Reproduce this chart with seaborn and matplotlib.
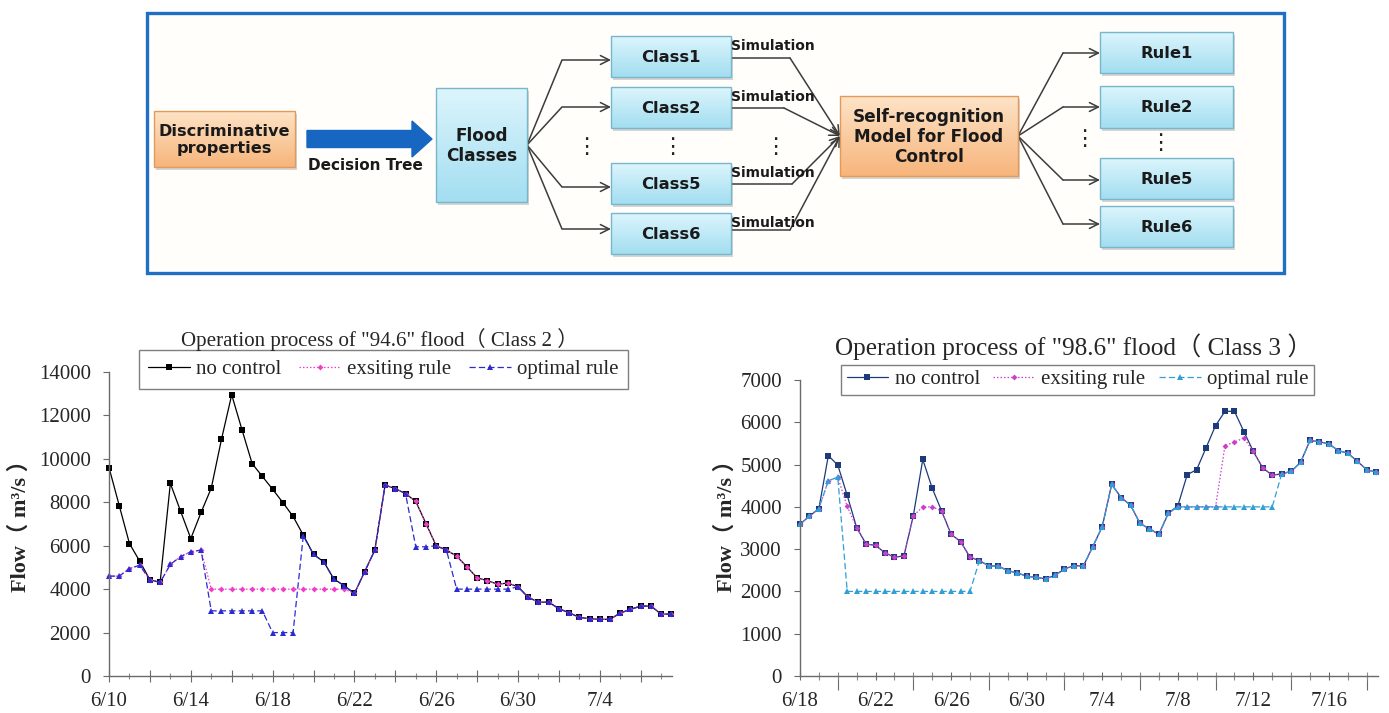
import numpy as np
import pandas as pd
import matplotlib
matplotlib.use('Agg')
import matplotlib.pyplot as plt
import seaborn as sns
from matplotlib.patches import Rectangle, FancyArrow
from matplotlib.colors import LinearSegmentedColormap
from matplotlib.ticker import FixedLocator, FixedFormatter

# ---------------- data ----------------
left_start = '1994-06-10'
left_no_control = [9600, 7850, 6100, 5290, 4430, 4310, 8870, 7590, 6330, 7530,
                   8650, 10900, 12950, 11350, 9780, 9190, 8600, 7990, 7350, 6490,
                   5600, 5260, 4460, 4160, 3800, 4800, 5800, 8790, 8630, 8400,
                   8040, 7020, 6000, 5800, 5520, 5030, 4520, 4390, 4230, 4280,
                   4110, 3620, 3400, 3400, 3100, 2910, 2700, 2640, 2610, 2610,
                   2900, 3070, 3220, 3220, 2850, 2850]
left_existing = [4600, 4600, 4950, 5100, 4430, 4310, 5140, 5500, 5720, 5800,
                 4000, 4000, 4000, 4000, 4000, 4000, 4000, 4000, 4000, 4000,
                 4000, 4000, 4000, 4000, 3800, 4800, 5800, 8790, 8630, 8400,
                 8040, 7020, 6000, 5800, 5520, 5030, 4520, 4390, 4230, 4280,
                 4110, 3620, 3400, 3400, 3100, 2910, 2700, 2640, 2610, 2610,
                 2900, 3070, 3220, 3220, 2850, 2850]
left_optimal = [4600, 4600, 4950, 5100, 4430, 4310, 5140, 5500, 5720, 5800,
                3000, 3000, 3000, 3000, 3000, 3000, 2000, 2000, 2000, 6450,
                5600, 5260, 4460, 4160, 3800, 4800, 5800, 8790, 8630, 8400,
                5950, 5950, 6000, 5800, 4000, 4000, 4000, 4000, 4000, 4000,
                4110, 3620, 3400, 3400, 3100, 2910, 2700, 2640, 2610, 2610,
                2900, 3070, 3220, 3220, 2850, 2850]
left_tick_labels = ['6/10', '6/14', '6/18', '6/22', '6/26', '6/30', '7/4']

right_start = '1998-06-18'
right_no_control = [3590, 3780, 3960, 5210, 4990, 4270, 3510, 3120, 3090, 2910,
                    2810, 2840, 3790, 5120, 4440, 3900, 3350, 3180, 2810, 2730,
                    2600, 2600, 2490, 2440, 2360, 2330, 2300, 2380, 2530, 2610,
                    2600, 3060, 3530, 4530, 4220, 4040, 3610, 3480, 3350, 3850,
                    4020, 4760, 4880, 5400, 5920, 6260, 6260, 5780, 5310, 4920,
                    4750, 4780, 4840, 5050, 5570, 5540, 5490, 5330, 5270, 5080,
                    4880, 4820]
right_existing = [3590, 3780, 3960, 4620, 4700, 4010, 3510, 3120, 3090, 2910,
                  2810, 2840, 3790, 4000, 4000, 3900, 3350, 3180, 2810, 2730,
                  2600, 2600, 2490, 2440, 2360, 2330, 2300, 2380, 2530, 2610,
                  2600, 3060, 3530, 4530, 4220, 4040, 3610, 3480, 3350, 3850,
                  4000, 4000, 4000, 4000, 4000, 5450, 5530, 5630, 5310, 4920,
                  4750, 4780, 4840, 5050, 5570, 5540, 5490, 5330, 5270, 5080,
                  4880, 4820]
right_optimal = [3590, 3780, 3960, 4620, 4700, 2000, 2000, 2000, 2000, 2000,
                 2000, 2000, 2000, 2000, 2000, 2000, 2000, 2000, 2000, 2730,
                 2600, 2600, 2490, 2440, 2360, 2330, 2300, 2380, 2530, 2610,
                 2600, 3060, 3530, 4530, 4220, 4040, 3610, 3480, 3350, 3850,
                 4000, 4000, 4000, 4000, 4000, 4000, 4000, 4000, 4000, 4000,
                 4000, 4780, 4840, 5050, 5570, 5540, 5490, 5330, 5270, 5080,
                 4880, 4820]
right_tick_labels = ['6/18', '6/22', '6/26', '6/30', '7/4', '7/8', '7/12', '7/16']

series_names = ['no control', 'exsiting rule', 'optimal rule']

# ---------------- setup ----------------
sns.set_theme(style='white')
SERIF = ['Liberation Serif', 'Noto Sans CJK SC', 'DejaVu Sans']
plt.rcParams['font.family'] = SERIF

W, H = 1389, 713
fig = plt.figure(figsize=(W / 100, H / 100), dpi=100)
fig.patch.set_facecolor('white')

# ---------------- diagram ----------------
dax = fig.add_axes([0, 0, 1, 1])
dax.set_zorder(0)
dax.axis('off')
SANS = 'DejaVu Sans'
LINEC = '#3c3c3c'

dax.add_patch(Rectangle((147, 13), 1284 - 147, 273 - 13, facecolor='#fffefb',
                        edgecolor='#1f6fc5', lw=2.4, zorder=1))


def gbox(x0, y0, x1, y1, top, bottom, edge, text, fs):
    dax.add_patch(Rectangle((x0 + 2, y0 + 3), x1 - x0, y1 - y0, facecolor='#8a8a8a',
                            alpha=0.35, edgecolor='none', zorder=2))
    cmap = LinearSegmentedColormap.from_list('g', [top, bottom])
    grad = np.linspace(0, 1, 64).reshape(-1, 1)
    im = dax.imshow(grad, extent=(x0, x1, y1, y0), origin='upper', cmap=cmap,
                    aspect='auto', zorder=3, interpolation='bilinear')
    rect = Rectangle((x0, y0), x1 - x0, y1 - y0, facecolor='none', edgecolor=edge,
                     lw=1.0, zorder=4)
    dax.add_patch(rect)
    im.set_clip_path(rect)
    dax.text((x0 + x1) / 2, (y0 + y1) / 2 + 1, text, ha='center', va='center', fontsize=fs,
             fontweight='bold', family=SANS, color='#1a1a1a', zorder=5, linespacing=1.12)


CYAN = ('#dcf5fc', '#a3def1', '#78b6cc')
ORANGE = ('#fde3c6', '#f7b57c', '#e29a5c')

gbox(154, 111, 295, 167, *ORANGE, 'Discriminative\nproperties', 11.6)
gbox(436, 88, 527, 202, *CYAN, 'Flood\nClasses', 12.2)
class_boxes = [(36, 77, 'Class1'), (87, 128, 'Class2'), (163, 204, 'Class5'), (213, 254, 'Class6')]
for y0, y1, t in class_boxes:
    gbox(611, y0, 731, y1, *CYAN, t, 11.8)
gbox(840, 96, 1018, 176, *ORANGE, 'Self-recognition\nModel for Flood\nControl', 12.2)
rule_boxes = [(32, 73, 'Rule1'), (86, 128, 'Rule2'), (158, 199, 'Rule5'), (206, 247, 'Rule6')]
for y0, y1, t in rule_boxes:
    gbox(1100, y0, 1233, y1, *CYAN, t, 11.8)

dax.add_patch(FancyArrow(307, 139, 125, 0, width=17, head_width=36, head_length=20,
                         length_includes_head=True, color='#1767c2', zorder=3))
dax.text(365, 165, 'Decision Tree', ha='center', va='center', fontsize=11,
         fontweight='bold', family=SANS, color='#1a1a1a', zorder=5)

AP = dict(arrowstyle='->', color=LINEC, lw=1.1, shrinkA=0, shrinkB=0, mutation_scale=16)

# fan from flood classes to classes
for yy in [60, 107, 187, 229]:
    dax.plot([527, 562], [145, yy], color=LINEC, lw=1.1, zorder=2, solid_capstyle='butt')
    dax.annotate('', xy=(611, yy), xytext=(562, yy), arrowprops=AP, zorder=2)

# from classes to self-recognition model
for ylab, yy, xb in [(46, 58, 790), (97, 108, 784), (173, 184, 792), (223, 230, 790)]:
    dax.text(731, ylab, 'Simulation', ha='left', va='center', fontsize=10,
             fontweight='bold', family=SANS, color='#1a1a1a', zorder=5)
    dax.plot([731, xb], [yy, yy], color=LINEC, lw=1.1, zorder=2)
    dax.annotate('', xy=(840, 136), xytext=(xb, yy), arrowprops=AP, zorder=2)

# fan from model to rules
for yy in [53, 107, 180, 224]:
    dax.plot([1018, 1063], [136, yy], color=LINEC, lw=1.1, zorder=2)
    dax.annotate('', xy=(1100, yy), xytext=(1063, yy), arrowprops=AP, zorder=2)

for xd, yd in [(586, 147), (672, 147), (775, 147), (1084, 139), (1160, 143)]:
    dax.text(xd, yd, '\u22ee', ha='center', va='center', fontsize=16, family=SANS,
             color='#222222', zorder=5)

dax.set_xlim(0, W)
dax.set_ylim(H, 0)

# ---------------- charts ----------------
axL = fig.add_axes([109 / W, 1 - 676 / H, (672 - 109) / W, (676 - 372) / H])
axR = fig.add_axes([800 / W, 1 - 676 / H, (1378 - 800) / W, (676 - 380) / H])


def day_offsets(start, n):
    dates = pd.date_range(start, periods=n, freq='12h')
    return ((dates - dates[0]) / pd.Timedelta(days=1)).to_numpy()


def draw(ax, x, ys, colors):
    styles = [dict(marker='s', markersize=4.2, linestyle='-'),
              dict(marker='D', markersize=3.0, linestyle=(0, (1.2, 1.6))),
              dict(marker='^', markersize=4.6, linestyle=(0, (5, 2.5)))]
    for y, c, st, name in zip(ys, colors, styles, series_names):
        sns.lineplot(x=x, y=y, ax=ax, color=c, linewidth=0.9, markeredgewidth=0,
                     label=name, clip_on=False, **st)


xL = day_offsets(left_start, len(left_no_control))
xR = day_offsets(right_start, len(right_no_control))

draw(axL, xL, [left_no_control, left_existing, left_optimal], ['#000000', '#ee3fc8', '#2b2bd0'])
draw(axR, xR, [right_no_control, right_existing, right_optimal], ['#1d3a7a', '#cc3fcc', '#2f9fd6'])

axL.set_xlim(0, xL[-1] + 0.03)
axL.set_ylim(0, 14000)
axR.set_xlim(0, xR[-1] + 0.1)
axR.set_ylim(0, 7000)
axL.set_yticks(np.arange(0, 14001, 2000))
axR.set_yticks(np.arange(0, 7001, 1000))

for ax in (axL, axR):
    ax.set_facecolor('none')
    sns.despine(ax=ax)
    for s in ('left', 'bottom'):
        ax.spines[s].set_color('#6a6a6a')
        ax.spines[s].set_linewidth(1.0)
    ax.tick_params(axis='y', direction='out', length=4, width=0.8, color='#6a6a6a',
                   labelsize=15, pad=9, left=True)
    ax.set_xlabel('')
    ax.set_ylabel('')

# left x ticks: long every 2 days, short each day, labels every 4 days
lab_days_L = [4 * i for i in range(len(left_tick_labels))]
maj_L = list(range(0, 28, 2))
axL.xaxis.set_major_locator(FixedLocator(maj_L))
axL.xaxis.set_major_formatter(FixedFormatter(
    [left_tick_labels[lab_days_L.index(d)] if d in lab_days_L else '' for d in maj_L]))
axL.xaxis.set_minor_locator(FixedLocator(list(range(1, 28, 2))))
axL.tick_params(axis='x', which='major', direction='inout', length=9, width=0.8,
                color='#6a6a6a', labelsize=15, pad=7, bottom=True)
axL.tick_params(axis='x', which='minor', direction='inout', length=5, width=0.8,
                color='#8a8a8a', bottom=True)

# right x ticks: short each day, labels every 4 days, long between labels
lab_days_R = [4 * i for i in range(len(right_tick_labels))]
axR.xaxis.set_major_locator(FixedLocator(lab_days_R))
axR.xaxis.set_major_formatter(FixedFormatter(right_tick_labels))
axR.xaxis.set_minor_locator(FixedLocator(list(range(0, 31))))
axR.tick_params(axis='x', which='major', direction='inout', length=6, width=0.8,
                color='#6a6a6a', labelsize=15, pad=8.5, bottom=True)
axR.tick_params(axis='x', which='minor', direction='inout', length=6, width=0.8,
                color='#8a8a8a', bottom=True)
sec = axR.secondary_xaxis('bottom')
sec.set_xticks([d + 2 for d in lab_days_R])
sec.set_xticklabels([])
sec.tick_params(axis='x', direction='out', length=10, width=0.8, color='#6a6a6a')
sec.spines['bottom'].set_visible(False)

for ax in (axL, axR):
    for lbl in ax.get_xticklabels() + ax.get_yticklabels():
        lbl.set_family(SERIF)

# legends
for ax, (cx, cy), bp, cs in [(axL, (383.5, 369.5), 0.45, 0.85), (axR, (1077.5, 379.5), 0.25, 0.65)]:
    leg = ax.legend(loc='center', bbox_to_anchor=(cx / W, 1 - cy / H),
                    bbox_transform=fig.transFigure, ncol=3, frameon=True, fancybox=False,
                    edgecolor='#7f7f7f', fontsize=15, handlelength=2.0, handletextpad=0.3,
                    columnspacing=cs, borderpad=bp, borderaxespad=0)
    leg.get_frame().set_linewidth(1.0)
    leg.get_frame().set_facecolor('white')
    leg.get_frame().set_alpha(1)
    for t in leg.get_texts():
        t.set_family(SERIF)

# titles
fig.text(380 / W, 1 - 340 / H, 'Operation process of "94.6" flood（ Class 2 ）',
         ha='center', va='center', fontsize=15.1, family=SERIF)
fig.text(1073.5 / W, 1 - 347 / H, 'Operation process of "98.6" flood（ Class 3 ）',
         ha='center', va='center', fontsize=18.2, family=SERIF)

# y labels
for xpos in (20, 726):
    fig.text(xpos / W, 1 - 521 / H, 'Flow（ m³/s ）', rotation=90, ha='center', va='center',
             fontsize=16, fontweight='bold', family=SERIF)

fig.savefig('out.png', dpi=100)
